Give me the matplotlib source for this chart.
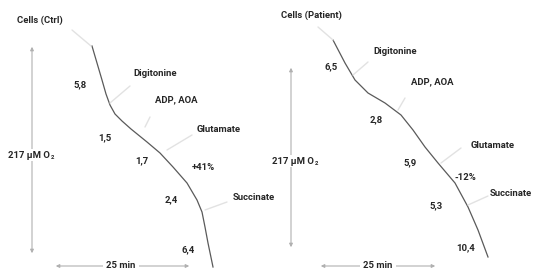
import matplotlib
matplotlib.use("Agg")
import matplotlib.pyplot as plt

plt.rcParams['font.family'] = ['Roboto', 'DejaVu Sans']

# Oxygraph traces (time axis -> x, O2 axis -> y, in figure pixel units)
ctrl_x = [92, 97, 102, 106, 110, 115, 122, 131, 147, 160, 173, 187, 197, 202, 205, 208, 213]
ctrl_y = [46, 63, 80, 94, 105, 114, 121, 129, 142, 153, 167, 183, 200, 212, 227, 243, 267]
pat_x = [333, 345, 355, 368, 385, 401, 413, 425, 438, 455, 468, 478, 488]
pat_y = [40, 63, 80, 93, 103, 115, 130, 147, 163, 183, 207, 230, 257]

titles = ["Cells (Ctrl)", "Cells (Patient)"]
additions = ["Digitonine", "ADP, AOA", "Glutamate", "Succinate"]
ctrl_rates = ["5,8", "1,5", "1,7", "2,4", "6,4"]
pat_rates = ["6,5", "2,8", "5,9", "5,3", "10,4"]
changes = ["+41%", "-12%"]
o2_label = "217 µM O"
o2_sub = "2"
time_label = "25 min"

W, H = 538, 278
fig = plt.figure(figsize=(W / 100, H / 100), dpi=100)
ax = fig.add_axes([0, 0, 1, 1])
ax.set_xlim(0, W)
ax.set_ylim(H, 0)
ax.axis('off')

tc = '#262626'
fc = '#e2e2e2'
ac = '#b0b0b0'
fs = 6.8

def txt(x, y, s, ha='left', **kw):
    ax.text(x, y, s, ha=ha, va='center', fontsize=fs, color=tc, fontweight='bold', **kw)

def faint(x0, y0, x1, y1):
    ax.plot([x0, x1], [y0, y1], color=fc, lw=1.0, solid_capstyle='round')

renderer = fig.canvas.get_renderer()

def o2(x0, y):
    t = ax.text(x0, y, o2_label, ha='left', va='center', fontsize=fs, color=tc,
                fontweight='bold', zorder=4)
    bb = t.get_window_extent(renderer=renderer)
    xr = ax.transData.inverted().transform((bb.x1, bb.y0))[0]
    ax.text(xr + 0.5, y + 2.5, o2_sub, ha='left', va='center', fontsize=fs * 0.62,
            color=tc, fontweight='bold', zorder=4)
    ax.fill_between([x0 - 1, xr + 5], y - 6, y + 6, color='white', zorder=3, lw=0)

# traces
ax.plot(ctrl_x, ctrl_y, color='#5a5a5a', lw=0.9)
ax.plot(pat_x, pat_y, color='#5a5a5a', lw=0.9)

# ---- left panel ----
txt(17, 20, titles[0])
faint(72, 30, 91, 46)
txt(133, 73, additions[0])
faint(130, 86, 110, 103)
txt(155, 100, additions[1])
faint(150, 117, 145, 127)
txt(197, 130, additions[2])
faint(192, 135, 167, 150)
txt(233, 197, additions[3])
faint(227, 202, 205, 210)
txt(73, 85, ctrl_rates[0])
txt(98, 138, ctrl_rates[1])
txt(135, 161, ctrl_rates[2])
txt(165, 200, ctrl_rates[3])
txt(182, 250, ctrl_rates[4])
txt(192, 168, changes[0])

ax.annotate('', xy=(32, 44), xytext=(32, 256),
            arrowprops=dict(arrowstyle='<|-|>', color=ac, lw=0.8, mutation_scale=5))
o2(8, 155)
ax.annotate('', xy=(53, 266), xytext=(192, 266),
            arrowprops=dict(arrowstyle='<|-|>', color=ac, lw=0.8, mutation_scale=5))
ax.text(121, 266, time_label, ha='center', va='center', fontsize=fs, color=tc,
        fontweight='bold', bbox=dict(boxstyle='square,pad=0.3', fc='white', ec='none'))

# ---- right panel ----
txt(281, 15, titles[1])
faint(318, 27, 333, 40)
txt(373, 52, additions[0])
faint(368, 62, 353, 75)
txt(411, 82, additions[1])
faint(405, 98, 398, 110)
txt(471, 145, additions[2])
faint(461, 148, 441, 163)
txt(490, 193, additions[3])
faint(488, 196, 468, 205)
txt(331, 67, pat_rates[0], ha='center')
txt(376, 120, pat_rates[1], ha='center')
txt(410, 163, pat_rates[2], ha='center')
txt(436, 206, pat_rates[3], ha='center')
txt(466, 248, pat_rates[4], ha='center')
txt(465, 177, changes[1], ha='center')

ax.annotate('', xy=(291, 65), xytext=(291, 250),
            arrowprops=dict(arrowstyle='<|-|>', color=ac, lw=0.8, mutation_scale=5))
o2(272, 161)
ax.annotate('', xy=(318, 266), xytext=(438, 266),
            arrowprops=dict(arrowstyle='<|-|>', color=ac, lw=0.8, mutation_scale=5))
ax.text(378, 266, time_label, ha='center', va='center', fontsize=fs, color=tc,
        fontweight='bold', bbox=dict(boxstyle='square,pad=0.3', fc='white', ec='none'))

fig.savefig('out.png', dpi=100)
